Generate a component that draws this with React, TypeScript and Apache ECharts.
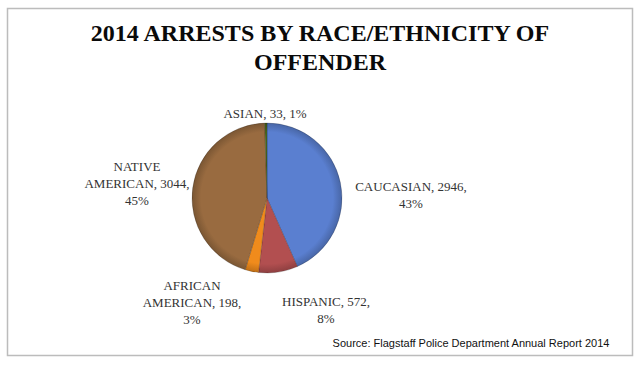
import React, { useEffect, useRef } from "react";
import * as echarts from "echarts";

const categories = ["CAUCASIAN", "HISPANIC", "AFRICAN AMERICAN", "NATIVE AMERICAN", "ASIAN"];
const arrests = [2946, 572, 198, 3044, 33];
const percentLabels = ["43%", "8%", "3%", "45%", "1%"];
const colors = ["#5a7fd0", "#b24f50", "#f08b1c", "#996b40", "#4d6a20"];
const labelBreaks: Record<string, string> = {
  "CAUCASIAN": "CAUCASIAN, {v},\n{p}",
  "HISPANIC": "HISPANIC, {v},\n{p}",
  "AFRICAN AMERICAN": "AFRICAN\nAMERICAN, {v},\n{p}",
  "NATIVE AMERICAN": "NATIVE\nAMERICAN, {v},\n{p}",
  "ASIAN": "ASIAN, {v}, {p}",
};
const titleText = "2014 ARRESTS BY RACE/ETHNICITY OF\nOFFENDER";
const sourceText = "Source: Flagstaff Police Department Annual Report 2014";

// layout only
const pieCenter: [number, number] = [267, 198];
const pieRadius = 75;
const labelCenters: [number, number][] = [
  [411, 195],
  [326, 310],
  [192, 302],
  [137, 183],
  [265, 113],
];

function darken(hex: string, f: number) {
  const n = parseInt(hex.slice(1), 16);
  const r = Math.round(((n >> 16) & 255) * f);
  const g = Math.round(((n >> 8) & 255) * f);
  const b = Math.round((n & 255) * f);
  return `rgb(${r},${g},${b})`;
}

export default function App() {
  const ref = useRef<HTMLDivElement>(null);
  useEffect(() => {
    if (!ref.current) return;
    const chart = echarts.init(ref.current, null, { renderer: "svg" });
    const shade = (c: string) => ({
      type: "radial",
      x: pieCenter[0],
      y: pieCenter[1],
      r: pieRadius,
      global: true,
      colorStops: [
        { offset: 0, color: c },
        { offset: 0.88, color: c },
        { offset: 1, color: darken(c, 0.8) },
      ],
    });
    chart.setOption({
      animation: false,
      backgroundColor: "#ffffff",
      title: {
        text: titleText,
        left: "center",
        top: 13,
        textStyle: {
          fontFamily: "Liberation Serif",
          fontWeight: "bold",
          fontSize: 24,
          lineHeight: 29,
          color: "#0a0a0a",
        },
      },
      graphic: [
        {
          type: "rect",
          shape: { x: 7.5, y: 8.5, width: 625, height: 347 },
          style: { fill: "none", stroke: "#bcbcbc", lineWidth: 1.5 },
          silent: true,
        },
        {
          type: "text",
          right: 30,
          top: 337,
          style: {
            text: sourceText,
            fontFamily: "Liberation Sans",
            fontSize: 11,
            fill: "#111",
          },
        },
      ],
      series: [
        {
          type: "pie",
          center: pieCenter,
          radius: pieRadius,
          startAngle: 90,
          clockwise: true,
          avoidLabelOverlap: false,
          itemStyle: { borderColor: "rgba(0,0,0,0.3)", borderWidth: 0.6 },
          label: {
            show: true,
            position: "outside",
            fontFamily: "Liberation Serif",
            fontSize: 13,
            lineHeight: 17,
            color: "#333",
            align: "center",
            formatter: (p: any) =>
              labelBreaks[p.name]
                .replace("{v}", String(p.value))
                .replace("{p}", percentLabels[p.dataIndex]),
          },
          labelLine: { show: false },
          labelLayout: (params: any) => {
            const c = labelCenters[params.dataIndex];
            return { x: c[0], y: c[1], align: "center", verticalAlign: "middle" };
          },
          data: categories.map((name, i) => ({
            name,
            value: arrests[i],
            itemStyle: { color: shade(colors[i]) },
          })),
        },
      ],
    });
    return () => chart.dispose();
  }, []);
  return (
    <div
      ref={ref}
      style={{ position: "fixed", left: 0, top: 0, width: 640, height: 365 }}
    />
  );
}
